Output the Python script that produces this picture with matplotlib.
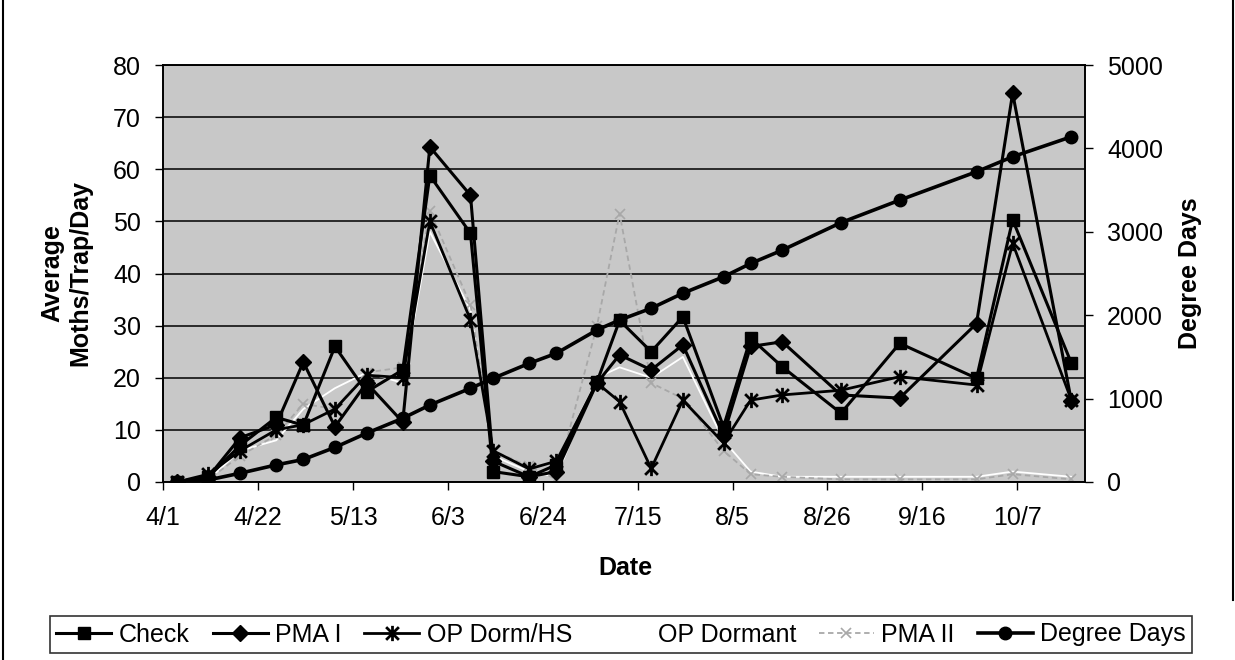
import numpy as np
import matplotlib
matplotlib.use('Agg')
import matplotlib.pyplot as plt
from matplotlib.path import Path
from matplotlib.lines import Line2D
from datetime import date

plt.rcParams['font.family'] = ['Liberation Sans', 'DejaVu Sans']

# --- data ---
dates = ['4/4', '4/11', '4/18', '4/26', '5/2', '5/9', '5/16', '5/24', '5/30', '6/8',
         '6/13', '6/21', '6/27', '7/6', '7/11', '7/18', '7/25', '8/3', '8/9', '8/16',
         '8/29', '9/11', '9/28', '10/6', '10/19']
check = [0, 1, 7, 12.4, 10.9, 26, 17.3, 21.5, 58.8, 47.7,
         2, 1, 3.3, 19.2, 31, 25, 31.7, 10.6, 27.6, 22.1,
         13.2, 26.6, 19.9, 50.3, 22.8]
pma1 = [0, 1, 8.5, 11, 23, 10.6, 19, 11.5, 64.3, 55,
        4, 1, 2, 19, 24.4, 21.5, 26.3, 9, 26, 26.9,
        16.7, 16.1, 30.4, 74.6, 15.5]
op_dorm_hs = [0, 1.5, 6, 10, 11, 14, 20.5, 20, 50, 31.1,
              6, 2.5, 4, 19, 15.4, 2.6, 15.7, 7.5, 15.7, 16.7,
              17.6, 20.2, 18.6, 45.8, 15.7]
op_dormant = [0, 0.5, 6, 8, 14, 18, 21, 19, 48, 33,
              5, 2, 1, 20, 22, 20, 24, 8, 2, 1,
              1, 1, 1, 2, 1]
pma2 = [0, 0.5, 5, 9, 15, 14, 21, 22, 52, 34,
        6, 3, 0.5, 30, 51.5, 19, 16, 6, 1.5, 1,
        0.5, 0.5, 0.5, 1.5, 0.5]
degree_days = [0, 25, 105, 205, 270, 415, 585, 764, 923, 1124,
               1243, 1423, 1543, 1823, 1942, 2083, 2263, 2460, 2620, 2780,
               3110, 3380, 3720, 3900, 4140]
tick_labels = ['4/1', '4/22', '5/13', '6/3', '6/24', '7/15', '8/5', '8/26', '9/16', '10/7']


def day_of_season(s):
    m, d = (int(v) for v in s.split('/'))
    return (date(2001, m, d) - date(2001, 4, 1)).days


x = [day_of_season(d) for d in dates]
xticks = [day_of_season(t) for t in tick_labels]

# asterisk marker like Excel's: x with a vertical bar
star = Path([(-1, -1), (1, 1), (-1, 1), (1, -1), (0, -1.2), (0, 1.2)],
            [Path.MOVETO, Path.LINETO, Path.MOVETO, Path.LINETO, Path.MOVETO, Path.LINETO])

fig = plt.figure(figsize=(12.35, 6.6), dpi=100)
ax = fig.add_axes([0.1322, 0.2697, 0.7463, 0.6318])
ax.set_facecolor('#c8c8c8')

ax.plot(x, check, color='black', lw=2.2, marker='s', ms=9, label='Check', zorder=3)
ax.plot(x, pma1, color='black', lw=2.2, marker='D', ms=8, label='PMA I', zorder=3)
ax.plot(x, op_dorm_hs, color='black', lw=2.0, marker=star, ms=11, mew=2,
        mfc='none', label='OP Dorm/HS', zorder=3)
ax.plot(x, op_dormant, color='white', lw=1.3, label='OP Dormant', zorder=2)
ax.plot(x, pma2, color='#a8a8a8', lw=1.3, ls=(0, (3, 2)), marker='x', ms=7, mew=1.2,
        label='PMA II', zorder=2)

ax.set_xlim(0, 204)
ax.set_ylim(0, 80)
ax.set_yticks(range(0, 81, 10))
ax.set_xticks(xticks)
ax.set_xticklabels(tick_labels)
ax.yaxis.grid(True, color='black', lw=1.1)
ax.set_axisbelow(True)
ax.tick_params(axis='both', direction='out', length=6, width=1, labelsize=18, colors='black')
ax.tick_params(axis='y', pad=10)
ax.tick_params(axis='x', pad=11)
for sp in ax.spines.values():
    sp.set_color('black')
    sp.set_linewidth(1.2)

ax2 = ax.twinx()
ax2.plot(x, degree_days, color='black', lw=2.6, marker='o', ms=9, label='Degree Days', zorder=4)
ax2.set_ylim(0, 5000)
ax2.set_yticks(range(0, 5001, 1000))
ax2.tick_params(axis='y', direction='out', length=6, width=1, labelsize=18, pad=10)
for sp in ax2.spines.values():
    sp.set_color('black')
    sp.set_linewidth(1.2)

fig.text(66 / 1235, 1 - 273 / 660, 'Average\nMoths/Trap/Day', rotation=90,
         ha='center', va='center', fontsize=18, fontweight='bold', linespacing=1.2)
fig.text(1190 / 1235, 1 - 273 / 660, 'Degree Days', rotation=90,
         ha='center', va='center', fontsize=18, fontweight='bold')
fig.text(625 / 1235, 1 - 568 / 660, 'Date', ha='center', va='center',
         fontsize=18, fontweight='bold')

handles = ax.get_lines() + ax2.get_lines()
leg = fig.legend(handles, [h.get_label() for h in handles], loc='center',
                 bbox_to_anchor=(50 / 1235, 1 - 655 / 660, 1142 / 1235, 41 / 660),
                 mode='expand', ncol=6, fontsize=18, frameon=True, fancybox=False,
                 edgecolor='black', handlelength=2.2, handletextpad=0.3,
                 columnspacing=0.8, borderpad=0.25, borderaxespad=0)
leg.get_frame().set_linewidth(1.2)

# scanned page frame lines
fig.add_artist(Line2D([3 / 1235, 3 / 1235], [0, 1], color='black', lw=1.5))
fig.add_artist(Line2D([1233 / 1235, 1233 / 1235], [1 - 600 / 660, 1], color='black', lw=1.5))

fig.savefig('out.png', dpi=100)
